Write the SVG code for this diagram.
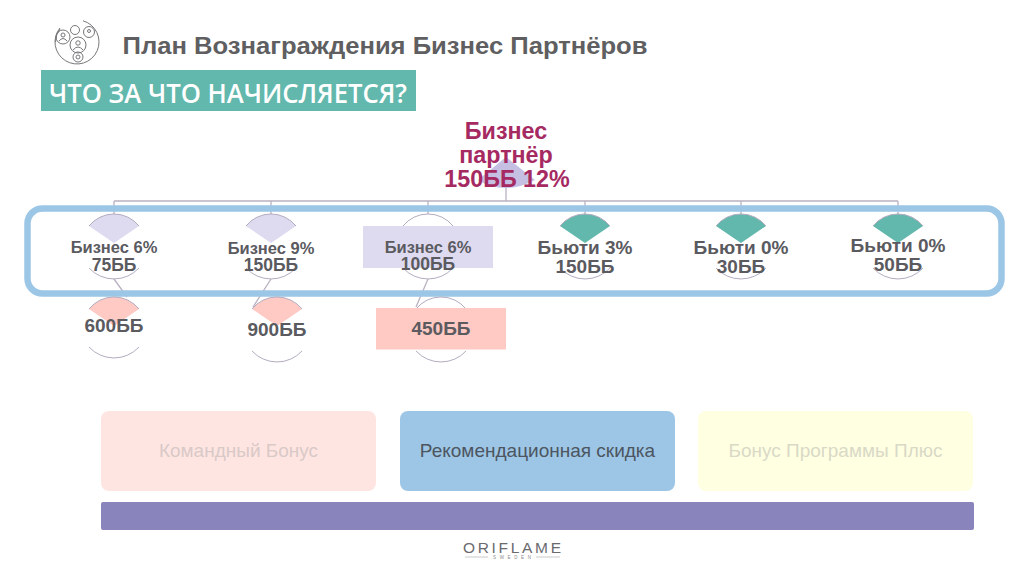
<svg xmlns="http://www.w3.org/2000/svg" width="1024" height="574" viewBox="0 0 1024 574">
<defs>
<style>
text{font-family:"Liberation Sans",Arial,sans-serif;text-anchor:middle}
.lbl{font-weight:700;fill:#5a5a5f}
.s{font-size:16.5px}.m{font-size:17.5px}.l{font-size:19px}
.root{font-weight:700;fill:#a62a62;font-size:23.3px}
.arc{fill:none;stroke:#b3acc0;stroke-width:1}
.conn{fill:none;stroke:#b9b1c2;stroke-width:1.3}
.foot{font-size:19px}
.ic{fill:none;stroke:#77777a;stroke-width:1}
</style>
<path id="fan" d="M-25,12 A32,32 0 0 1 25,12 L0,29 Z"/>
<path id="topArc" class="arc" d="M-25,12 A32,32 0 0 1 25,12"/>
<path id="botArc" class="arc" d="M-25,54 A34,34 0 0 0 25,54"/>
</defs>
<rect width="1024" height="574" fill="#fff"/>

<g id="icon">
<path class="ic" d="M83,20.800 A22,22 0 1 1 60,28"/>
<path class="ic" d="M60,29 A22,22 0 0 0 55.500,42"/>
<circle class="ic" cx="63" cy="37" r="7"/><circle class="ic" cx="63" cy="35" r="2"/><path class="ic" d="M59,41 Q63,36 67,41"/>
<circle class="ic" cx="75" cy="30" r="4.500"/><circle class="ic" cx="89" cy="32" r="5.500"/><circle class="ic" cx="89" cy="31" r="1.500"/>
<circle class="ic" cx="78" cy="45" r="8"/><circle class="ic" cx="78" cy="43" r="2.200"/><path class="ic" d="M73,50 Q78,44 83,50"/>
<circle class="ic" cx="78" cy="57" r="5"/><circle class="ic" cx="78" cy="57" r="2"/>
</g>
<text id="title" x="385" y="54" font-size="24" font-weight="700" fill="#5f5f62" textLength="525" lengthAdjust="spacingAndGlyphs">План Вознаграждения Бизнес Партнёров</text>
<g id="banner">
<rect x="41" y="70" width="375" height="41" fill="#62b8ad"/>
<text x="228" y="103" font-size="27" font-weight="600" fill="#fff" style='font-family:"Open Sans",sans-serif' textLength="358" lengthAdjust="spacingAndGlyphs">ЧТО ЗА ЧТО НАЧИСЛЯЕТСЯ?</text>
</g>

<g id="connectors">
<path class="conn" d="M506,182V201M114,201H898M114,201V214M271,201V214M428,201V214M585,201V214M741,201V214M898,201V214"/>
<path class="conn" d="M114,279L127,297M271,279L253,307M428,279L416,307"/>
</g>

<g id="frame"><rect x="27.500" y="208.500" width="974" height="85" rx="15" fill="none" stroke="#9cc6e6" stroke-width="6.500"/></g>

<g id="root">
<path d="M478,180 L506,157 L535,180 Q520,188 506,188 Q490,188 478,180 Z" fill="#c5c0e3"/>
<text class="root" x="506" y="139">Бизнес</text>
<text class="root" x="506" y="163">партнёр</text>
<text class="root" x="507" y="187">150ББ 12%</text>
</g>

<g id="n1"><use href="#fan" x="114" y="214" fill="#dedaf0"/><use href="#topArc" x="114" y="214"/><use href="#botArc" x="114" y="214"/>
<text class="lbl s" x="114" y="253">Бизнес 6%</text><text class="lbl m" x="114" y="271">75ББ</text></g>
<g id="n2"><use href="#fan" x="271" y="214" fill="#dedaf0"/><use href="#topArc" x="271" y="214"/><use href="#botArc" x="271" y="214"/>
<text class="lbl s" x="271" y="254">Бизнес 9%</text><text class="lbl m" x="271" y="271">150ББ</text></g>
<g id="n3"><use href="#topArc" x="428" y="214"/><use href="#botArc" x="428" y="214"/>
<rect x="363" y="226" width="130" height="42" fill="#dedaf0"/>
<text class="lbl s" x="428" y="253">Бизнес 6%</text><text class="lbl m" x="428" y="270">100ББ</text></g>
<g id="n4"><use href="#fan" x="585" y="214" fill="#62b8ad"/><use href="#topArc" x="585" y="214"/><use href="#botArc" x="585" y="214"/>
<text class="lbl l" x="585" y="254">Бьюти 3%</text><text class="lbl l" x="585" y="273">150ББ</text></g>
<g id="n5"><use href="#fan" x="741" y="214" fill="#62b8ad"/><use href="#topArc" x="741" y="214"/><use href="#botArc" x="741" y="214"/>
<text class="lbl l" x="741" y="254">Бьюти 0%</text><text class="lbl l" x="741" y="273">30ББ</text></g>
<g id="n6"><use href="#fan" x="898" y="214" fill="#62b8ad"/><use href="#topArc" x="898" y="214"/><use href="#botArc" x="898" y="214"/>
<text class="lbl l" x="898" y="252">Бьюти 0%</text><text class="lbl l" x="898" y="271">50ББ</text></g>

<g id="p1"><use href="#fan" x="114" y="297" fill="#ffc9c4"/><use href="#topArc" x="114" y="297"/><use href="#botArc" x="114" y="293"/>
<text class="lbl l" x="114" y="332">600ББ</text></g>
<g id="p2"><use href="#fan" x="277" y="297" fill="#ffc9c4"/><use href="#topArc" x="277" y="297"/><use href="#botArc" x="277" y="297"/>
<text class="lbl l" x="277" y="336">900ББ</text></g>
<g id="p3"><use href="#topArc" x="441" y="297"/><use href="#botArc" x="441" y="297"/>
<rect x="376" y="308" width="130" height="41.500" fill="#ffc9c4"/>
<text class="lbl l" x="441" y="335">450ББ</text></g>

<g id="bonus1"><rect x="101" y="411" width="275" height="80" rx="8" fill="#ffe5e2"/>
<text class="foot" x="238.500" y="457" fill="#d9c9c7">Командный Бонус</text></g>
<g id="bonus2"><rect x="400" y="411" width="275" height="80" rx="8" fill="#9dc6e6"/>
<text class="foot" x="537.500" y="457" fill="#4c5560">Рекомендационная скидка</text></g>
<g id="bonus3"><rect x="698" y="411" width="275" height="80" rx="8" fill="#ffffe2"/>
<text class="foot" x="835.500" y="457" fill="#d9d9c6">Бонус Программы Плюс</text></g>
<g id="bar"><rect x="101" y="502" width="873" height="28" rx="2" fill="#8a84bc"/></g>

<g id="logo">
<text x="512" y="552.500" font-size="15.500" fill="#6a6a6e" textLength="98" lengthAdjust="spacing">ORIFLAME</text>
<text x="512" y="559" font-size="4.500" fill="#8a8a8e" textLength="38" lengthAdjust="spacing">SWEDEN</text>
<path d="M465,557H488M536,557H560" stroke="#bbb" stroke-width=".8"/>
</g>
</svg>
